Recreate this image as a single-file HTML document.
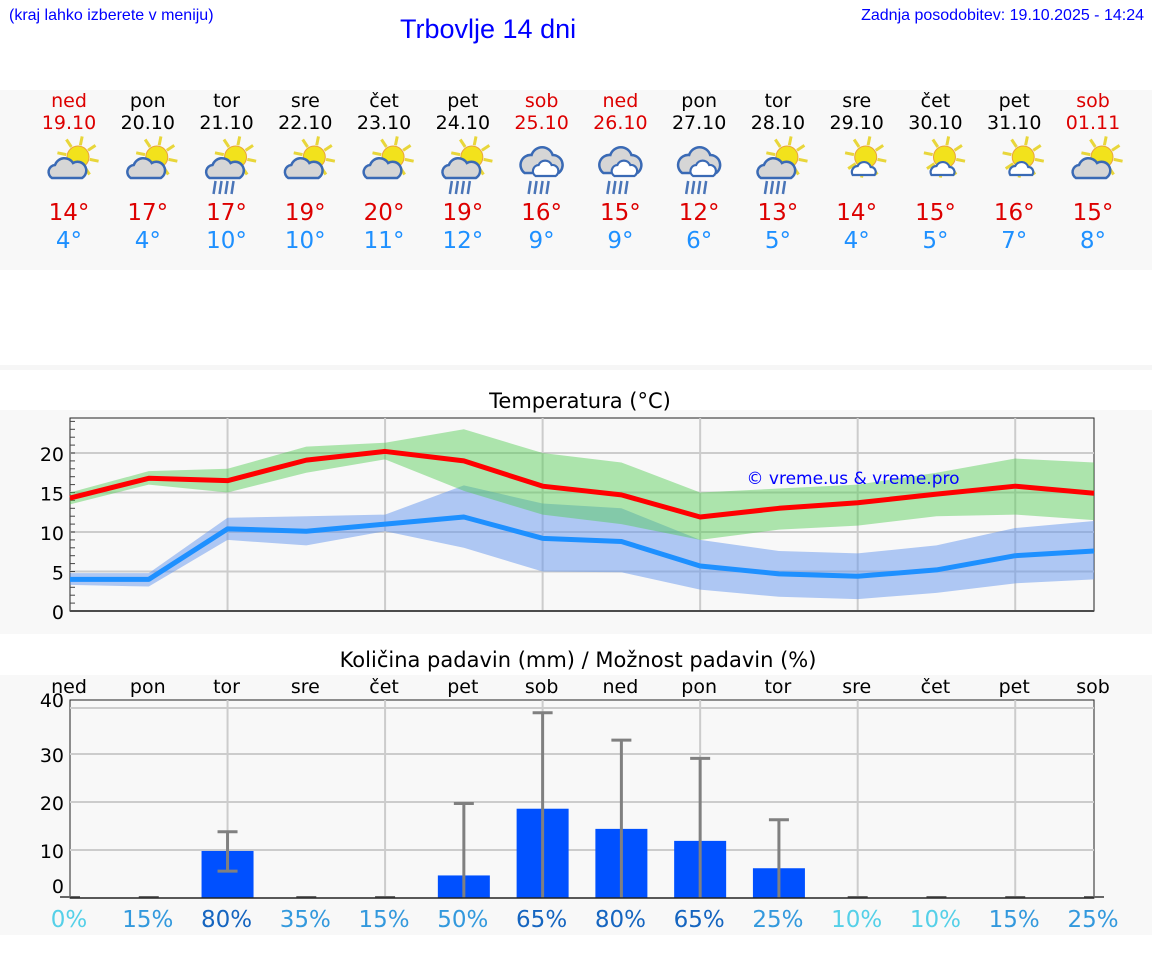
<!DOCTYPE html>
<html><head><meta charset="utf-8"><style>
body{margin:0;width:1152px;height:975px;background:#fff;font-family:"DejaVu Sans","Liberation Sans",sans-serif;position:relative;overflow:hidden}
.abs{position:absolute}
</style></head><body>
<div class="abs" style="left:9px;top:7px;font-size:16px;color:#00f;font-family:'Liberation Sans',sans-serif">(kraj lahko izberete v meniju)</div>
<div class="abs" style="left:400px;top:14px;font-size:27px;color:#00f;font-family:'Liberation Sans',sans-serif">Trbovlje 14 dni</div>
<div class="abs" style="right:8px;top:7px;font-size:16px;color:#00f;font-family:'Liberation Sans',sans-serif">Zadnja posodobitev: 19.10.2025 - 14:24</div>
<div class="abs" style="left:0;top:90px;width:1152px;height:180px;background:#f8f8f8"></div>
<div class="abs" style="left:0;top:365px;width:1152px;height:5px;background:#f6f6f6"></div>
<div class="abs" style="left:0;top:410px;width:1152px;height:224px;background:#f8f8f8"></div>
<div class="abs" style="left:0;top:675px;width:1152px;height:260px;background:#f8f8f8"></div>
<svg id="s" class="abs" style="left:0;top:0" width="1152" height="975"></svg>
<script>
const days=["ned","pon","tor","sre","čet","pet","sob","ned","pon","tor","sre","čet","pet","sob"];
const dates=["19.10","20.10","21.10","22.10","23.10","24.10","25.10","26.10","27.10","28.10","29.10","30.10","31.10","01.11"];
const hiLabels=[14,17,17,19,20,19,16,15,12,13,14,15,16,15];
const loLabels=[4,4,10,10,11,12,9,9,6,5,4,5,7,8];
const icons=["pc","pc","pcr","pc","pc","pcr","cr","cr","cr","pcr","ps","ps","ps","pc"];
const tMax=[14.3,16.8,16.5,19.1,20.2,19.0,15.8,14.7,11.9,13.0,13.7,14.8,15.8,14.9];
const tMaxHi=[15,17.7,18,20.8,21.3,23.0,20,18.8,15,15.5,16,17.5,19.3,18.8];
const tMaxLo=[13.5,16,15,17.5,19.2,15.2,12.2,11,9,10.3,10.8,12,12.2,11.5];
const tMin=[4.0,4.0,10.4,10.1,11,11.9,9.2,8.8,5.7,4.7,4.4,5.2,7,7.6];
const tMinHi=[4.8,4.8,11.8,12,12.2,15.9,13.6,13,9,7.6,7.3,8.3,10.5,11.4];
const tMinLo=[3.3,3.1,9,8.3,10.1,8,5,4.9,2.7,1.8,1.5,2.3,3.5,4];
const tTicks=[0,5,10,15,20];
const rain=[0,0,9.8,0,0,4.7,18.6,14.4,11.9,6.2,0,0,0,0];
const rainLo=[0,0,5.6,0,0,0,0,0,0,0,0,0,0,0];
const rainHi=[0,0,13.8,0,0,19.7,38.6,32.9,29.1,16.3,0,0,0,0];
const prob=[0,15,80,35,15,50,65,80,65,25,10,10,15,25];
const pTicks=[0,10,20,30,40];
const S=document.getElementById('s');const NS="http://www.w3.org/2000/svg";
function el(t,a,txt){const e=document.createElementNS(NS,t);for(const k in a)e.setAttribute(k,a[k]);if(txt!==undefined)e.textContent=txt;S.appendChild(e);return e;}
const X=i=>70+i*(1024/13);
const TY=v=>611-7.9*v;
const PY=v=>898-4.8*v;
const red=i=>[0,6,7,13].includes(i);
days.forEach((d,i)=>{const x=X(i)-1;const c=red(i)?"#d00":"#000";
 let e=el('text',{x:x,y:107,'font-size':19,'text-anchor':'middle',fill:c},d);
 e=el('text',{x:x,y:129,'font-size':19,'text-anchor':'middle',fill:c},dates[i]);
 e=el('text',{x:x,y:220,'font-size':23,'text-anchor':'middle',fill:"#d00"},hiLabels[i]+"°");
 e=el('text',{x:x,y:248,'font-size':23,'text-anchor':'middle',fill:"#1e90ff"},loLabels[i]+"°");
 const g=document.createElementNS(NS,'g');
 const t=icons[i];let h='';
 if(t[0]=='p'){const sx=x+9,sy=157;for(let k=0;k<8;k++){const a=k*Math.PI/4+0.2;h+=`<line x1="${sx+Math.cos(a)*12}" y1="${sy+Math.sin(a)*12}" x2="${sx+Math.cos(a)*21}" y2="${sy+Math.sin(a)*21}" stroke="#e8d63a" stroke-width="3"/>`;}
  h+=`<circle cx="${sx}" cy="${sy}" r="11" fill="#f2e21c" stroke="#e9a33a" stroke-width="1"/>`;}
 if(t=='ps'){h+=`<path d="M${x-4} ${175} a6 6 0 0 1 5 -9 a7 7 0 0 1 13 1 a5 5 0 0 1 4 8 z" fill="#fff" stroke="#3a6ab5" stroke-width="2.2"/>`;}
 else if(t[0]=='p'){h+=`<path d="M${x-17} ${178} a7 7 0 0 1 3 -13 a10 10 0 0 1 18 -2 a7 7 0 0 1 9 15 z" fill="#d6d6d6" stroke="#3a6ab5" stroke-width="2.5"/>`;}
 else{h+=`<path d="M${x-17} ${173} a10 10 0 0 1 7 -18 a11 11 0 0 1 21 0 a10 10 0 0 1 6 18 z" fill="#d6d6d6" stroke="#3a6ab5" stroke-width="2.5"/><path d="M${x-6} ${176} a6 6 0 0 1 3 -11 a7 7 0 0 1 13 0 a6 6 0 0 1 4 11 z" fill="#fff" stroke="#3a6ab5" stroke-width="2.2"/>`;}
 if(t.endsWith('r')){for(let k=0;k<4;k++)h+=`<line x1="${x-11+k*6}" y1="${181}" x2="${x-13+k*6}" y2="${194}" stroke="#4a75b8" stroke-width="2.5"/>`;}
 g.innerHTML=h;S.appendChild(g);
});
let e=el('text',{x:580,y:408,'font-size':21,'text-anchor':'middle',fill:'#000'},"Temperatura (°C)");
el('rect',{x:70,y:418,width:1024,height:193,fill:'#f8f8f8',stroke:'#222','stroke-width':1});
tTicks.forEach(v=>{el('line',{x1:70,x2:1094,y1:TY(v),y2:TY(v),stroke:'#ccc','stroke-width':2});const t=el('text',{x:64,y:TY(v)+8,'font-size':19,'text-anchor':'end'},v);});
for(let v=0;v<=24;v++)el('line',{x1:70,x2:75,y1:TY(v),y2:TY(v),stroke:'#444'});
for(let i=2;i<13;i+=2)el('line',{x1:X(i),x2:X(i),y1:418,y2:611,stroke:'#ccc','stroke-width':2});
function band(hi,lo,fill,name){const p=hi.map((v,i)=>X(i)+','+TY(v)).concat(lo.map((v,i)=>X(i)+','+TY(v)).reverse());const b=el('polygon',{points:p.join(' '),fill:fill});}
band(tMinHi,tMinLo,'rgba(100,149,237,0.5)','min-temp-band');
band(tMaxHi,tMaxLo,'rgba(80,205,80,0.45)','max-temp-band');
function line(a,c,name){const l=el('polyline',{points:a.map((v,i)=>X(i)+','+TY(v)).join(' '),fill:'none',stroke:c,'stroke-width':5,'stroke-linejoin':'round'});}
line(tMax,'#f00','max-temp-line');line(tMin,'#1e90ff','min-temp-line');
el('line',{x1:70,x2:1094,y1:611,y2:611,stroke:'#222','stroke-width':1.5});
e=el('text',{x:853,y:484,'font-size':17,'text-anchor':'middle',fill:'#00f'},"© vreme.us & vreme.pro");
e=el('text',{x:578,y:667,'font-size':21,'text-anchor':'middle'},"Količina padavin (mm) / Možnost padavin (%)");
el('rect',{x:70,y:700,width:1024,height:198,fill:'#f8f8f8',stroke:'#222','stroke-width':1});
pTicks.forEach(v=>{if(v>0)el('line',{x1:70,x2:1094,y1:PY(v)-(v==40?-2:0),y2:PY(v)-(v==40?-2:0),stroke:'#ccc','stroke-width':2});const t=el('text',{x:64,y:v==0?893:(v==40?707:PY(v)+8),'font-size':19,'text-anchor':'end'},v);});
for(let i=2;i<13;i+=2)el('line',{x1:X(i),x2:X(i),y1:700,y2:898,stroke:'#ccc','stroke-width':2});
days.forEach((d,i)=>{const t=el('text',{x:X(i)-1,y:693,'font-size':19,'text-anchor':'middle'},d);});
rain.forEach((v,i)=>{if(v>0){const b=el('rect',{x:X(i)-26,y:PY(v),width:52,height:PY(0)-PY(v),fill:'#0050ff'});}
 if(rainHi[i]>0){el('line',{x1:X(i),x2:X(i),y1:PY(rainLo[i]),y2:PY(rainHi[i]),stroke:'#808080','stroke-width':3});el('line',{x1:X(i)-10,x2:X(i)+10,y1:PY(rainHi[i]),y2:PY(rainHi[i]),stroke:'#808080','stroke-width':3});if(rainLo[i]>0)el('line',{x1:X(i)-10,x2:X(i)+10,y1:PY(rainLo[i]),y2:PY(rainLo[i]),stroke:'#808080','stroke-width':3});}
 else el('line',{x1:X(i)-10,x2:X(i)+10,y1:897,y2:897,stroke:'#666','stroke-width':2});
 const c=prob[i]>=60?'#1565c0':(prob[i]>=15?'#3399dd':'#55d0e8');
 const t=el('text',{x:X(i)-1,y:927,'font-size':23,'text-anchor':'middle',fill:c},prob[i]+"%");
});
el('line',{x1:70,x2:1094,y1:898,y2:898,stroke:'#222','stroke-width':1.5});
</script>
</body></html>
